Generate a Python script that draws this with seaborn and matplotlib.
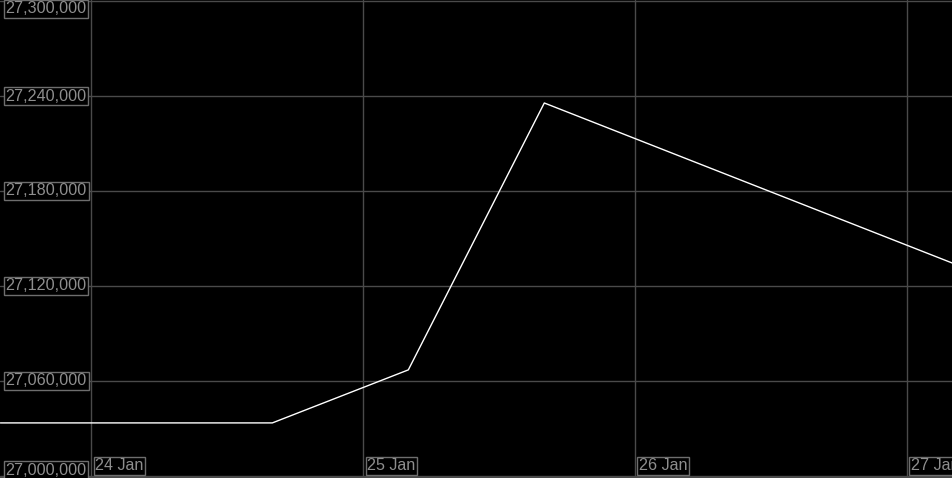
import pandas as pd
import matplotlib.pyplot as plt
import matplotlib.transforms as mtransforms
import seaborn as sns

# values
times = ["2024-01-23 16:00", "2024-01-24 04:00", "2024-01-24 16:00",
         "2024-01-25 04:00", "2024-01-25 16:00", "2024-01-27 04:00"]
values = [27033500, 27033500, 27033500, 27067000, 27235600, 27134500]

y_ticks = [27000000, 27060000, 27120000, 27180000, 27240000, 27300000]
x_ticks = ["2024-01-24", "2024-01-25", "2024-01-26", "2024-01-27"]
x_labels = ["24 Jan", "25 Jan", "26 Jan", "27 Jan"]

df = pd.DataFrame({"time": pd.to_datetime(times), "value": values})

sns.set_style("dark")
plt.rcParams["font.family"] = ["Liberation Sans", "DejaVu Sans"]

fig = plt.figure(figsize=(9.53, 4.78), dpi=100, facecolor="black")
ax = fig.add_axes([0, 0, 1, 1])
ax.set_facecolor("black")

sns.lineplot(data=df, x="time", y="value", ax=ax, color="white", linewidth=1.0)

ax.set_xlim(pd.Timestamp("2024-01-23 15:58"), pd.Timestamp("2024-01-27 04:04"))
ax.set_ylim(26998700, 27300650)

xt = pd.to_datetime(x_ticks)
ax.set_xticks(xt)
ax.set_yticks(y_ticks)
ax.grid(True, color="#4a4a4a", linewidth=1.0)
ax.tick_params(length=0, labelbottom=False, labelleft=False)
ax.set_xlabel("")
ax.set_ylabel("")
for s in ax.spines.values():
    s.set_visible(False)
ax.axhline(26999100, color="#4a4a4a", linewidth=1.0)

fs = 11.6
box = dict(facecolor="black", edgecolor="#6e6e6e", boxstyle="square,pad=0.1", linewidth=1.0)
tc = "#8e8e8e"
ytrans = mtransforms.blended_transform_factory(ax.transAxes, ax.transData)
for v in y_ticks:
    lab = f"{v:,}"
    if v == y_ticks[-1]:
        ax.text(0.006, 0.997, lab, transform=ax.transAxes, va="top", ha="left",
                color=tc, fontsize=fs, bbox=box)
    elif v == y_ticks[0]:
        ax.text(0.006, 0.001, lab, transform=ax.transAxes, va="bottom", ha="left",
                color=tc, fontsize=fs, bbox=box)
    else:
        ax.text(0.006, v, lab, transform=ytrans, va="center", ha="left",
                color=tc, fontsize=fs, bbox=box)

xtrans = mtransforms.blended_transform_factory(ax.transData, ax.transAxes)
for d, lab in zip(xt, x_labels):
    ax.text(d + pd.Timedelta(minutes=22), 0.01, lab, transform=xtrans, va="bottom",
            ha="left", color=tc, fontsize=fs, bbox=box)

fig.savefig("out.png", dpi=100, facecolor="black")
